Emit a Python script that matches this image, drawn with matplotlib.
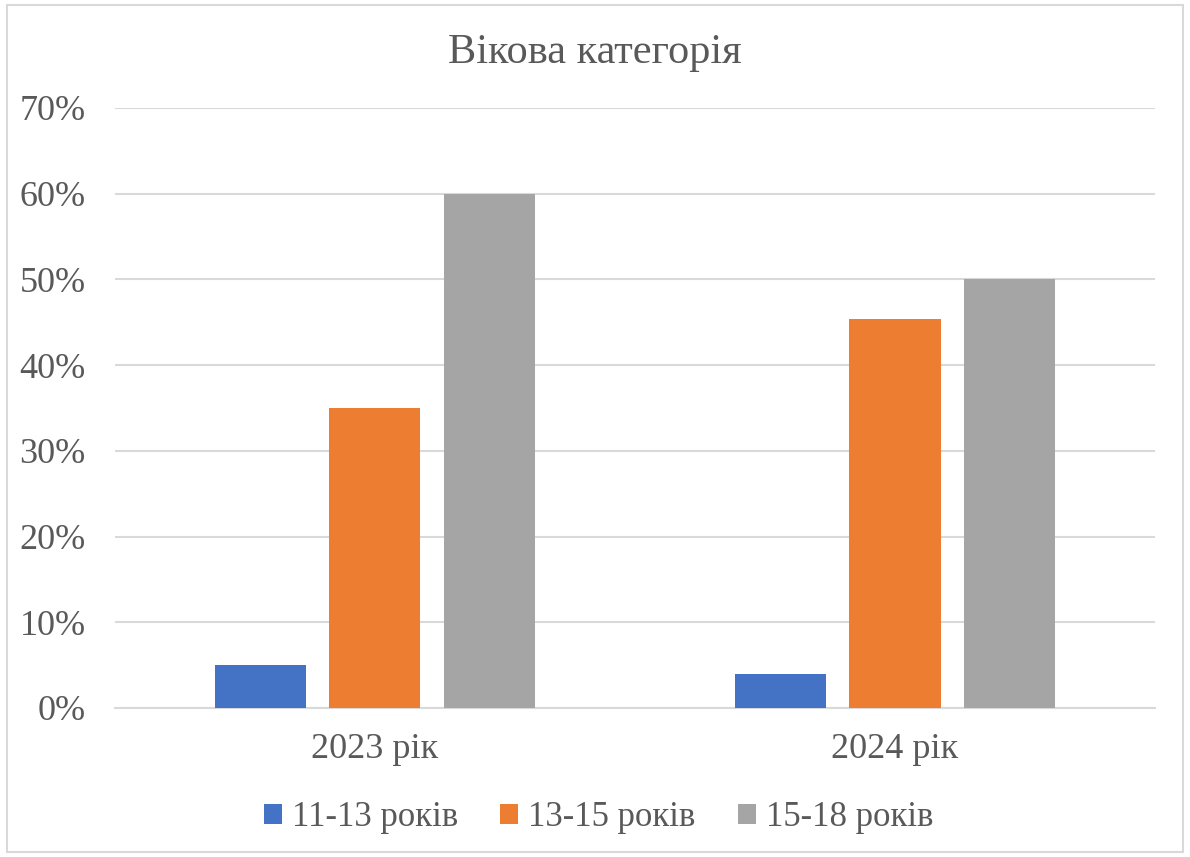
import matplotlib
matplotlib.use("Agg")
from matplotlib import pyplot as plt
from matplotlib.patches import Rectangle
import numpy as np

# дані з діаграми
years = ['2023 рік', '2024 рік']
groups = ['11-13 років', '13-15 років', '15-18 років']
values_11_13 = [0.05, 0.04]
values_13_15 = [0.35, 0.454]
values_15_18 = [0.60, 0.50]
colors = ['#4472C4', '#ED7D31', '#A5A5A5']
yticks = [0, 0.1, 0.2, 0.3, 0.4, 0.5, 0.6, 0.7]

plt.rcParams['font.family'] = ['Liberation Serif', 'DejaVu Serif']
text_color = '#595959'

fig = plt.figure(figsize=(11.9, 8.57), dpi=100)
ax = fig.add_axes([0.0966, 0.1739, 0.8740, 0.7001])

x = np.arange(len(years))
width = 0.175
step = 0.221
series = [values_11_13, values_13_15, values_15_18]
for i, (vals, name, col) in enumerate(zip(series, groups, colors)):
    ax.bar(x + (i - 1) * step, vals, width=width, color=col, label=name, zorder=3)

ax.set_xlim(-0.5, 1.5)
ax.set_ylim(0, 0.7)
ax.set_yticks(yticks)
ax.set_yticklabels([f'{int(round(t * 100))}%' for t in yticks])
ax.set_xticks(x)
ax.set_xticklabels(years)
ax.yaxis.grid(True, color='#D9D9D9', linewidth=1.5, zorder=0)
ax.set_axisbelow(True)
for side in ['top', 'right', 'left']:
    ax.spines[side].set_visible(False)
ax.spines['bottom'].set_color('#D9D9D9')
ax.spines['bottom'].set_linewidth(1.5)
ax.tick_params(axis='both', length=0, labelsize=26, colors=text_color)
ax.tick_params(axis='y', pad=21)
ax.tick_params(axis='x', pad=18)

fig.text(0.5, 0.938, 'Вікова категорія', ha='center', va='center',
         fontsize=30.5, color=text_color)

fig.legend(loc='center', bbox_to_anchor=(0.503, 0.046), ncol=3, frameon=False,
           fontsize=25, labelcolor=text_color, handlelength=0.52,
           handleheight=0.52, handletextpad=0.3, columnspacing=1.2)

# рамка навколо діаграми
fig.patches.append(Rectangle((0.006, 0.006), 0.988, 0.988, transform=fig.transFigure,
                             fill=False, edgecolor='#D9D9D9', linewidth=1.5))

fig.savefig('out.png', dpi=100)
